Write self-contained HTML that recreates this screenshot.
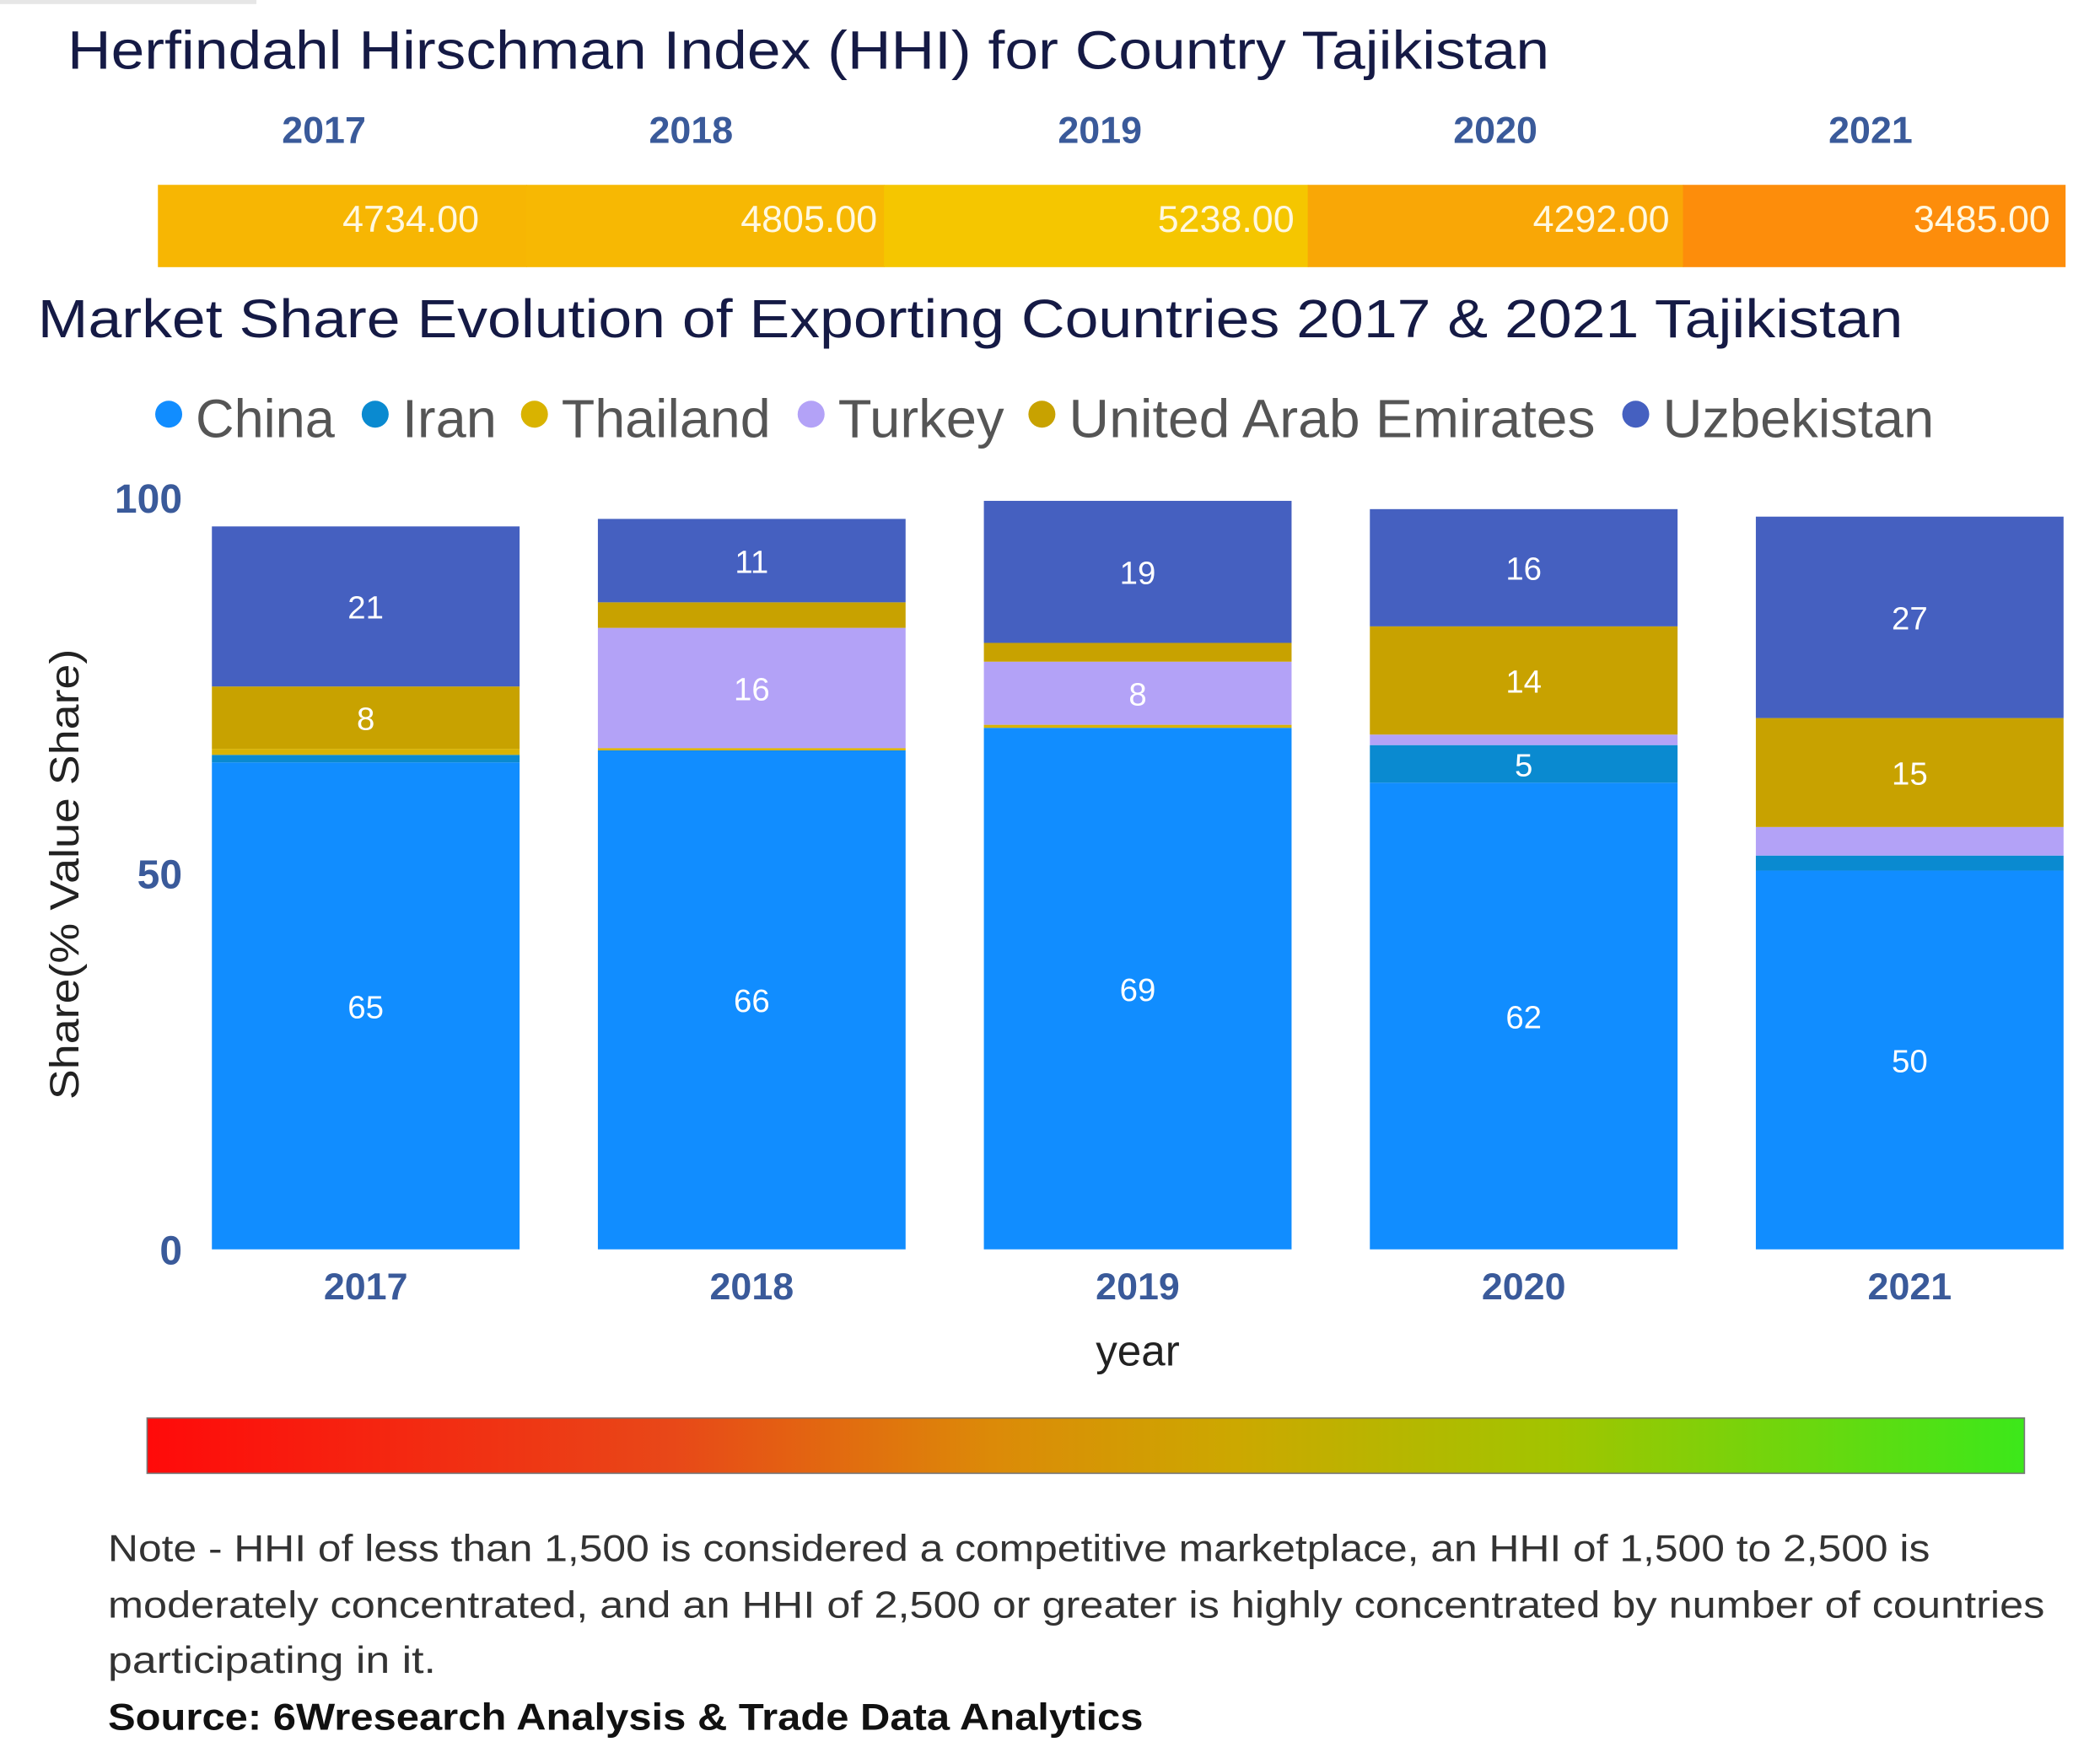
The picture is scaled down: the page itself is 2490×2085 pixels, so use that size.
<!DOCTYPE html>
<html><head><meta charset="utf-8"><style>
html,body{margin:0;padding:0;background:#fff;}
svg{display:block;}
</style></head><body>
<svg id="chart" xmlns="http://www.w3.org/2000/svg" width="2490" height="2085" viewBox="0 0 1556 1303" preserveAspectRatio="none" font-family="'Liberation Sans', 'DejaVu Sans', sans-serif">
<rect x="0" y="0" width="190" height="3" fill="#e6e6e6"/>
<text x="50" y="51" font-size="40" fill="#151a45" textLength="1098" lengthAdjust="spacingAndGlyphs">Herfindahl Hirschman Index (HHI) for Country Tajikistan</text>
<g id="hhi"></g>
<text x="28" y="250" font-size="40" fill="#151a45" textLength="1382" lengthAdjust="spacingAndGlyphs">Market Share Evolution of Exporting Countries 2017 &amp; 2021 Tajikistan</text>
<g id="legend"></g>
<g id="yaxis"></g>
<text transform="translate(58,648) rotate(-90)" text-anchor="middle" font-size="30" fill="#222" textLength="334" lengthAdjust="spacingAndGlyphs">Share(% Value Share)</text>
<g id="bars"></g>
<g id="xaxis"></g>
<text x="843" y="1012" text-anchor="middle" font-size="32" fill="#222">year</text>
<defs>
<linearGradient id="scaleGrad" x1="0" x2="1" y1="0" y2="0">
<stop offset="0" stop-color="#ff0a0a"/>
<stop offset="0.28" stop-color="#e84818"/>
<stop offset="0.45" stop-color="#dc8a08"/>
<stop offset="0.58" stop-color="#cca800"/>
<stop offset="0.75" stop-color="#a2c400"/>
<stop offset="1" stop-color="#3ce81a"/>
</linearGradient>
</defs>
<rect x="109" y="1051" width="1391" height="41" fill="url(#scaleGrad)" stroke="#777" stroke-width="1"/>
<g font-size="28" fill="#333">
<text x="80" y="1157" textLength="1350" lengthAdjust="spacingAndGlyphs">Note - HHI of less than 1,500 is considered a competitive marketplace, an HHI of 1,500 to 2,500 is</text>
<text x="80" y="1199" textLength="1435" lengthAdjust="spacingAndGlyphs">moderately concentrated, and an HHI of 2,500 or greater is highly concentrated by number of countries</text>
<text x="80" y="1240" textLength="243" lengthAdjust="spacingAndGlyphs">participating in it.</text>
</g>
<text x="80" y="1282" font-size="28" font-weight="bold" fill="#111" textLength="767" lengthAdjust="spacingAndGlyphs">Source: 6Wresearch Analysis &amp; Trade Data Analytics</text>
</svg>
<script>
const years = ['2017','2018','2019','2020','2021'];
const hhiValues = [4734, 4805, 5238, 4292, 3485];
const seriesNames = ['China','Iran','Thailand','Turkey','United Arab Emirates','Uzbekistan'];
const china = [64.8, 66.4, 69.4, 62.1, 50.4];
const iran = [1.0, 0.0, 0.0, 5.0, 2.0];
const thailand = [0.8, 0.3, 0.4, 0.0, 0.0];
const turkey = [0.0, 16.0, 8.4, 1.4, 3.8];
const uae = [8.3, 3.4, 2.5, 14.4, 14.5];
const uzbekistan = [21.3, 11.1, 18.9, 15.6, 26.8];
const yTicks = [0, 50, 100];

const NS = 'http://www.w3.org/2000/svg';
function mk(tag, attrs, parent){const e=document.createElementNS(NS,tag);for(const k in attrs)e.setAttribute(k,attrs[k]);parent.appendChild(e);return e;}
const colors = ['#118dff','#0a8ad0','#d9b300','#b3a2f7','#c8a200','#4560c0'];
const series = [china, iran, thailand, turkey, uae, uzbekistan];

// HHI strip (layout positions)
const hhiG = document.getElementById('hhi');
const cellEdges=[117, 390, 655, 969, 1247, 1530];
const yearCenters=[240, 512, 815, 1108, 1386];
function hhiColor(v){
  const t=Math.max(0,Math.min(1,(v-3400)/(5300-3400)));
  const r=Math.round(253-(253-245)*t), g=Math.round(138+(200-138)*t), b=Math.round(11-11*t);
  return `rgb(${r},${g},${b})`;
}
years.forEach((y,i)=>{
  const r=mk('rect',{x:cellEdges[i],y:137,width:cellEdges[i+1]-cellEdges[i]+0.5,height:61,fill:hhiColor(hhiValues[i])},hhiG);
  
  
  const yl=mk('text',{x:yearCenters[i],y:106,'text-anchor':'middle','font-size':28,'font-weight':'bold',fill:'#3a5a9a'},hhiG);
  yl.textContent=y;
  
  
  const vl=mk('text',{x:cellEdges[i+1]-10,y:172,'text-anchor':'end','font-size':28,fill:'#fff8e0'},hhiG);
  vl.textContent=hhiValues[i].toFixed(2);
  
  
});
// fix value positions for first two cells (labels at 355 / 650)
hhiG.querySelectorAll('text[text-anchor="end"]')[0].setAttribute('x',355);
hhiG.querySelectorAll('text[text-anchor="end"]')[1].setAttribute('x',650);
hhiG.querySelectorAll('text[text-anchor="end"]')[2].setAttribute('x',959);
hhiG.querySelectorAll('text[text-anchor="end"]')[3].setAttribute('x',1237);
hhiG.querySelectorAll('text[text-anchor="end"]')[4].setAttribute('x',1519);

// legend
const lg=document.getElementById('legend');
const legX=[125,278,396,601,772,1212];
const legW=[103,70,155,123,390,201];
seriesNames.forEach((n,i)=>{
  const c=mk('circle',{cx:legX[i],cy:307,r:10,fill:colors[i]},lg);
  
  
  const t=mk('text',{x:legX[i]+20,y:324,'font-size':40,fill:'#555',textLength:legW[i],lengthAdjust:'spacingAndGlyphs'},lg);
  t.textContent=n;
  
  
});

// axes
const y0=926, y100=369;
function yScale(v){return y0-(y0-y100)*v/100;}
function xScale(i){return 157+i*286;}
const bw=228;
const ya=document.getElementById('yaxis');
yTicks.forEach(v=>{
  const t=mk('text',{x:135,y:yScale(v)+11,'text-anchor':'end','font-size':30,'font-weight':'bold',fill:'#3a5a9a'},ya);
  t.textContent=v;
  
  
});
const xa=document.getElementById('xaxis');
years.forEach((y,i)=>{
  const t=mk('text',{x:xScale(i)+bw/2,y:963,'text-anchor':'middle','font-size':28,'font-weight':'bold',fill:'#3a5a9a'},xa);
  t.textContent=y;
  
  
});

// bars
const bg=document.getElementById('bars');
years.forEach((y,i)=>{
  let cum=0;
  series.forEach((s,k)=>{
    const v=s[i]; if(v<=0) return;
    const top=yScale(cum+v), bot=yScale(cum);
    const r=mk('rect',{x:xScale(i),y:top,width:bw,height:bot-top,fill:colors[k]},bg);
    
    
    if(v>=4.5){
      const t=mk('text',{x:xScale(i)+bw/2,y:(top+bot)/2+9,'text-anchor':'middle','font-size':24,fill:'#fff'},bg);
      t.textContent=Math.round(v);
      
      
    }
    cum+=v;
  });
});
</script>
</body></html>
